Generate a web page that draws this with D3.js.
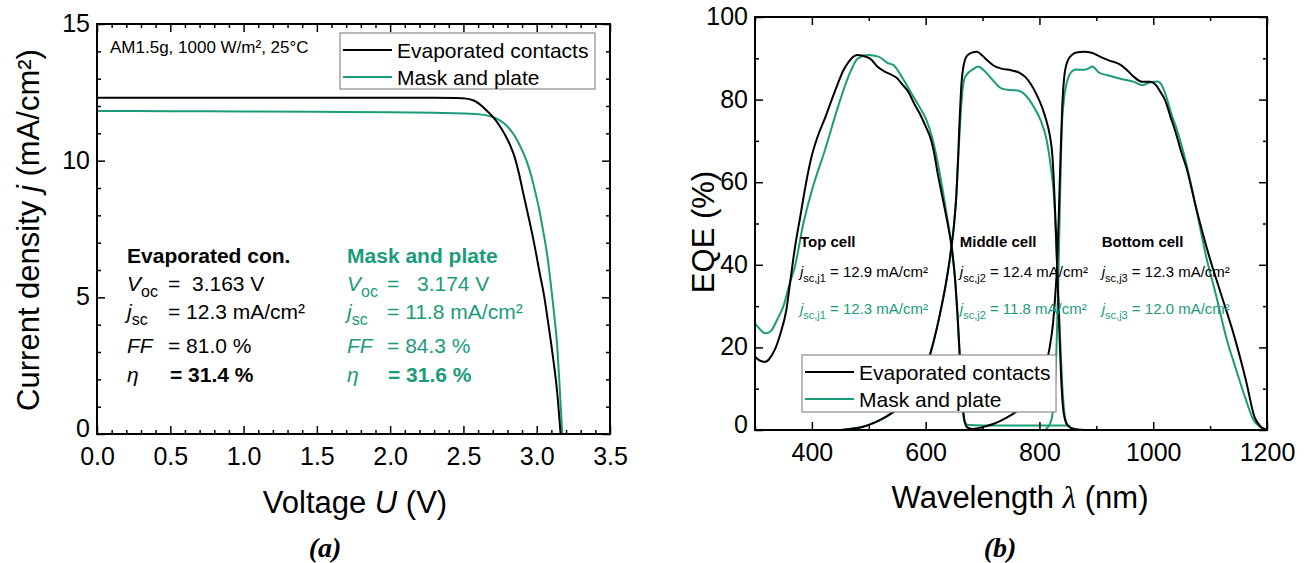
<!DOCTYPE html>
<meta charset="utf-8">
<style>
body { margin: 0; background: #fff; }
svg { font-family: "Liberation Sans", Arial, sans-serif; }
.frame { fill: none; stroke: #000; stroke-width: 2px; }
.axis path { display: none; }
.axis line { stroke: #000; stroke-width: 1.5px; }
.axis text { font-size: 25px; fill: #000; font-family: "Liberation Sans", Arial, sans-serif; }
.curve { fill: none; stroke-width: 2px; }
.legend rect { fill: #fff; stroke: #8c8c8c; stroke-width: 1.2px; }
</style>
<svg width="1311" height="563"></svg>
<script src="https://cdn.jsdelivr.net/npm/d3@7"></script>
<script>
var GREEN = "#1a9c7b";

// ---- (a) J-V curves: [voltage V, current density mA/cm2]
var jvEvap = [[0,12.30],[0.5,12.30],[1.0,12.30],[1.5,12.30],[2.0,12.30],[2.3,12.30],[2.45,12.29],
  [2.52,12.27],[2.57,12.20],[2.61,12.07],[2.64,11.93],[2.68,11.72],[2.71,11.55],[2.75,11.25],
  [2.78,10.98],[2.82,10.55],[2.85,10.12],[2.88,9.5],[2.91,8.76],[2.95,7.8],[2.98,7.04],
  [3.02,5.9],[3.05,5.07],[3.08,4.0],[3.11,2.85],[3.14,1.5],[3.163,0]];
var jvMask = [[0,11.82],[0.5,11.81],[1.0,11.80],[1.5,11.79],[2.0,11.77],[2.3,11.75],[2.5,11.73],
  [2.6,11.70],[2.68,11.63],[2.74,11.5],[2.8,11.25],[2.85,10.9],[2.89,10.5],[2.93,10.0],
  [2.96,9.5],[2.99,8.85],[3.015,8.27],[3.045,7.4],[3.075,6.42],[3.10,5.3],[3.12,4.33],
  [3.14,3.2],[3.155,1.87],[3.165,0.9],[3.174,0]];

// ---- (b) EQE curves: [wavelength nm, EQE %]
var eqeEvapTop = [[300,17.8],[310,16.7],[318,16.5],[325,17.2],[335,19.5],[345,23.5],[355,29],[362,36],
  [370,44],[380,52],[390,60],[400,66.5],[410,71],[423,75.5],[435,80],[446,84],[455,87],[464,89],
  [472,90.3],[480,90.8],[490,90.6],[500,90.1],[505,89.6],[515,88],[528,86.8],[540,86],[549,85.3],
  [560,83.5],[569,82],[580,79],[590,76.5],[600,73.5],[610,70],[615,67],[620,63],[630,56],[640,49],
  [646,44],[652,36],[656,28],[660,18],[664,8],[668,2.5],[672,0.8],[680,0.3],[700,0.1]];
var eqeEvapMid = [[450,0],[470,0.3],[490,0.8],[510,1.8],[530,3.2],[550,5],[570,7],[585,9.5],[595,12.5],
  [605,17],[615,22],[625,28],[635,35],[643,42],[650,50],[654,57],[657,66],[660,76],[663,84],
  [667,88.5],[672,90.5],[680,91.3],[690,91.6],[700,90.6],[710,89.3],[720,88.2],[733,87.5],
  [750,87.1],[765,86.5],[775,85.5],[785,83.7],[795,81.2],[805,78],[812,75],[818,71.5],[823,66],
  [826,58],[829,48],[832,36],[835,24],[838,13],[841,6],[845,2.5],[850,1],[860,0.3],[880,0]];
var eqeEvapBot = [[660,0],[680,0.2],[700,0.7],[720,1.5],[740,2.8],[760,4.5],[775,6.2],[790,8.5],
  [800,11],[810,15],[818,20],[824,26],[828,33],[831,40],[834,52],[837,66],[840,78],[844,86],
  [850,89.5],[857,90.8],[865,91.4],[878,91.6],[893,91.3],[908,90.3],[922,89.5],[944,88.3],
  [955,87],[966,85.5],[981,84.3],[995,84.3],[1005,83.5],[1012,82],[1021,79.8],[1030,76],
  [1040,71.8],[1050,67],[1058,63.7],[1075,54],[1097,42.7],[1119,33],[1141,23.4],[1163,12],
  [1178,3.2],[1189,0.8],[1200,0]];
var eqeMaskTop = [[300,25.8],[310,24.2],[318,23.4],[328,24],[340,27],[350,30],[360,35],[370,39.5],
  [385,50],[400,58],[423,67.8],[446,78.3],[464,85.5],[481,90],[499,90.8],[517,90.4],[534,88.8],
  [543,88.4],[558,85.5],[575,81.5],[590,78],[600,75.5],[613,70],[625,62],[636,53],[645,45],
  [652,36],[657,25],[661,14],[665,5],[669,1.8],[675,1.2],[700,1.1],[750,1.1],[800,1.1],[850,1.1],[855,1.0]];
var eqeMaskMid = [[450,0],[470,0.3],[490,0.8],[510,1.8],[530,3.2],[550,5],[570,7],[585,9.5],[595,12.5],
  [605,17],[615,22],[625,28],[635,35],[643,42],[650,50],[654,57],[657,65],[660,73],[664,81],
  [668,85],[675,86.5],[683,87.3],[692,88],[703,87],[718,84.7],[733,82.7],[747,82.3],[762,82.2],
  [776,81],[791,78],[802,75],[813,70],[820,63.7],[826,55.6],[831,40],[836,23.4],[840,11.3],
  [845,3],[850,1.2]];
var eqeMaskBot = [[810,0],[820,2],[826,8],[830,20],[833,35],[836,55],[839,72],[843,80],[848,84],
  [855,86.5],[864,87.3],[878,87.2],[886,87.5],[893,88],[905,86.5],[920,85.9],[944,85],[966,84.3],
  [981,83.5],[995,84.2],[1008,84.4],[1015,83.5],[1023,80.7],[1032,76.5],[1040,73.4],[1058,64.6],
  [1076,53.3],[1093,42],[1111,32.3],[1128,22.6],[1146,14.5],[1163,7.3],[1175,2.8],[1187,0.8],[1200,0.2]];

var seriesNames = ["Evaporated contacts", "Mask and plate"];

var jvXMajor = [0, 0.5, 1.0, 1.5, 2.0, 2.5, 3.0, 3.5];
var jvYMajor = [0, 5, 10, 15];
var eqeXMajor = [400, 600, 800, 1000, 1200];
var eqeYMajor = [0, 20, 40, 60, 80, 100];

var evapStats = ["3.163 V", "= 12.3 mA/cm²", "= 81.0 %", "= 31.4 %"];
var maskStats = ["3.174 V", "= 11.8 mA/cm²", "= 84.3 %", "= 31.6 %"];
var cellNames = ["Top cell", "Middle cell", "Bottom cell"];
var cellSubs = ["sc,j1", "sc,j2", "sc,j3"];
var cellJscEvap = ["12.9", "12.4", "12.3"];
var cellJscMask = ["12.3", "11.8", "12.0"];

var svg = d3.select("svg");

function rich(sel, parts) {
  var shift = 0;
  parts.forEach(function(p) {
    var ts = sel.append("tspan").text(p.t);
    var target = p.sub || 0;
    if (target !== shift) { ts.attr("dy", target - shift); shift = target; }
    if (p.i) ts.attr("font-style", "italic");
    if (p.size) ts.attr("font-size", p.size);
    if (p.b) ts.attr("font-weight", "bold");
    if (p.f) ts.attr("font-family", p.f);
  });
  return sel;
}

function axes(g, x, y, w, h, xMaj, xMin, yMaj, yMin, xFmt, yFmt) {
  g.append("g").attr("class", "axis").attr("transform", "translate(0," + h + ")")
    .call(d3.axisBottom(x).tickValues(xMaj).tickSize(-8).tickPadding(13).tickFormat(xFmt));
  g.append("g").attr("class", "axis").attr("transform", "translate(0," + h + ")")
    .call(d3.axisBottom(x).tickValues(xMin).tickSize(-4).tickFormat(""));
  g.append("g").attr("class", "axis")
    .call(d3.axisTop(x).tickValues(xMaj).tickSize(-8).tickFormat(""));
  g.append("g").attr("class", "axis")
    .call(d3.axisTop(x).tickValues(xMin).tickSize(-4).tickFormat(""));
  g.append("g").attr("class", "axis")
    .call(d3.axisLeft(y).tickValues(yMaj).tickSize(-8).tickPadding(7).tickFormat(yFmt))
    .selectAll("text").attr("dy", function(d) { return d === 0 ? "0.1em" : "0.3em"; });
  g.append("g").attr("class", "axis")
    .call(d3.axisLeft(y).tickValues(yMin).tickSize(-4).tickFormat(""));
  g.append("g").attr("class", "axis").attr("transform", "translate(" + w + ",0)")
    .call(d3.axisRight(y).tickValues(yMaj).tickSize(-8).tickFormat(""));
  g.append("g").attr("class", "axis").attr("transform", "translate(" + w + ",0)")
    .call(d3.axisRight(y).tickValues(yMin).tickSize(-4).tickFormat(""));
  g.append("rect").attr("class", "frame").attr("width", w).attr("height", h);
}

function legend(g, bx, by, bw, bh) {
  var lg = g.append("g").attr("class", "legend");
  lg.append("rect").attr("x", bx).attr("y", by).attr("width", bw).attr("height", bh);
  seriesNames.forEach(function(name, i) {
    var cy = by + 17 + i * 27;
    lg.append("line").attr("x1", bx + 3).attr("x2", bx + 52).attr("y1", cy).attr("y2", cy)
      .attr("stroke", i ? GREEN : "#000").attr("stroke-width", 2);
    lg.append("text").attr("x", bx + 57).attr("y", cy).attr("dy", "0.36em")
      .attr("font-size", 21).text(name);
  });
}

// ================= (a) =================
var wA = 513, hA = 410;
var gA = svg.append("g").attr("transform", "translate(97,24)");
var xA = d3.scaleLinear().domain([0, 3.5]).range([0, wA]);
var yA = d3.scaleLinear().domain([0, 15]).range([hA, 0]);
var lineA = d3.line().curve(d3.curveMonotoneX)
  .x(function(d) { return xA(d[0]); }).y(function(d) { return yA(d[1]); });

gA.append("path").datum(jvMask).attr("class", "curve").attr("stroke", GREEN).attr("d", lineA);
gA.append("path").datum(jvEvap).attr("class", "curve").attr("stroke", "#000").attr("d", lineA);

axes(gA, xA, yA, wA, hA, jvXMajor, d3.range(0, 36).map(function(i) { return i / 10; }).filter(function(v, i) { return i % 5; }),
  jvYMajor, d3.range(0, 16).filter(function(v) { return v % 5; }), d3.format(".1f"), d3.format("d"));

gA.append("text").attr("x", 13).attr("y", 29).attr("font-size", 17).text("AM1.5g, 1000 W/m², 25°C");
legend(gA, 243, 9, 255, 56);

// parameter table
var rowsJ = [6.24, 5.25, 4.19, 2.98, 1.92];
function statBlock(colV, eqV, valV, etaEqV, title, stats, color) {
  var t = gA.append("g").attr("fill", color).attr("font-size", 21);
  t.append("text").attr("x", xA(colV)).attr("y", yA(rowsJ[0])).attr("font-weight", "bold").text(title);
  rich(t.append("text").attr("x", xA(colV)).attr("y", yA(rowsJ[1])), [{t: "V", i: 1}, {t: "oc", sub: 6, size: 16}]);
  t.append("text").attr("x", xA(eqV)).attr("y", yA(rowsJ[1])).text("=");
  t.append("text").attr("x", xA(valV)).attr("y", yA(rowsJ[1])).text(stats[0]);
  rich(t.append("text").attr("x", xA(colV)).attr("y", yA(rowsJ[2])), [{t: "j", i: 1}, {t: "sc", sub: 6, size: 16}]);
  t.append("text").attr("x", xA(eqV)).attr("y", yA(rowsJ[2])).text(stats[1]);
  t.append("text").attr("x", xA(colV)).attr("y", yA(rowsJ[3])).attr("font-style", "italic").text("FF");
  t.append("text").attr("x", xA(eqV)).attr("y", yA(rowsJ[3])).text(stats[2]);
  t.append("text").attr("x", xA(colV)).attr("y", yA(rowsJ[4])).attr("font-style", "italic").text("η");
  t.append("text").attr("x", xA(etaEqV)).attr("y", yA(rowsJ[4])).attr("font-weight", "bold").text(stats[3]);
}
statBlock(0.205, 0.484, 0.648, 0.498, "Evaporated con.", evapStats, "#000");
statBlock(1.706, 1.979, 2.183, 1.985, "Mask and plate", maskStats, GREEN);

rich(svg.append("text").attr("transform", "translate(39,230) rotate(-90)")
  .attr("text-anchor", "middle").attr("font-size", 31),
  [{t: "Current density "}, {t: "j", i: 1}, {t: " (mA/cm²)"}]);
rich(svg.append("text").attr("x", 355).attr("y", 513).attr("text-anchor", "middle").attr("font-size", 31),
  [{t: "Voltage "}, {t: "U", i: 1}, {t: " (V)"}]);
svg.append("text").attr("x", 325).attr("y", 557).attr("text-anchor", "middle")
  .attr("font-family", "'Liberation Serif', 'Times New Roman', serif").attr("font-size", 28)
  .attr("font-weight", "bold").attr("font-style", "italic").text("(a)");

// ================= (b) =================
var wB = 512, hB = 413;
var gB = svg.append("g").attr("transform", "translate(755,17)");
var xB = d3.scaleLinear().domain([300, 1200]).range([0, wB]);
var yB = d3.scaleLinear().domain([0, 100]).range([hB, 0]);
var lineB = d3.line().curve(d3.curveMonotoneX)
  .x(function(d) { return xB(d[0]); }).y(function(d) { return yB(d[1]); });

gB.append("clipPath").attr("id", "clipB").append("rect").attr("width", wB).attr("height", hB);
var curves = gB.append("g").attr("clip-path", "url(#clipB)");
[eqeMaskTop, eqeMaskMid, eqeMaskBot].forEach(function(s) {
  curves.append("path").datum(s).attr("class", "curve").attr("stroke", GREEN).attr("d", lineB);
});
[eqeEvapTop, eqeEvapMid, eqeEvapBot].forEach(function(s) {
  curves.append("path").datum(s).attr("class", "curve").attr("stroke", "#000").attr("d", lineB);
});

axes(gB, xB, yB, wB, hB, eqeXMajor, [300, 500, 700, 900, 1100], eqeYMajor, [10, 30, 50, 70, 90], d3.format("d"), d3.format("d"));

var cellX = [379, 660, 909.5];
cellNames.forEach(function(name, i) {
  var x = xB(cellX[i]);
  gB.append("text").attr("x", x).attr("y", yB(44.3)).attr("font-size", 15).attr("font-weight", "bold").text(name);
  rich(gB.append("text").attr("x", x).attr("y", yB(37)).attr("font-size", 15),
    [{t: "j", i: 1}, {t: cellSubs[i], sub: 5, size: 11}, {t: " = " + cellJscEvap[i] + " mA/cm²"}]);
  rich(gB.append("text").attr("x", x).attr("y", yB(28)).attr("font-size", 15).attr("fill", GREEN),
    [{t: "j", i: 1}, {t: cellSubs[i], sub: 5, size: 11}, {t: " = " + cellJscMask[i] + " mA/cm²"}]);
});

legend(gB, 47, 338, 254, 57);

svg.append("text").attr("transform", "translate(714,232) rotate(-90)")
  .attr("text-anchor", "middle").attr("font-size", 31).text("EQE (%)");
rich(svg.append("text").attr("x", 1020).attr("y", 508).attr("text-anchor", "middle").attr("font-size", 31),
  [{t: "Wavelength "}, {t: "λ", i: 1, f: "'Liberation Serif', serif"}, {t: " (nm)"}]);
svg.append("text").attr("x", 1000).attr("y", 557).attr("text-anchor", "middle")
  .attr("font-family", "'Liberation Serif', 'Times New Roman', serif").attr("font-size", 28)
  .attr("font-weight", "bold").attr("font-style", "italic").text("(b)");
</script>
